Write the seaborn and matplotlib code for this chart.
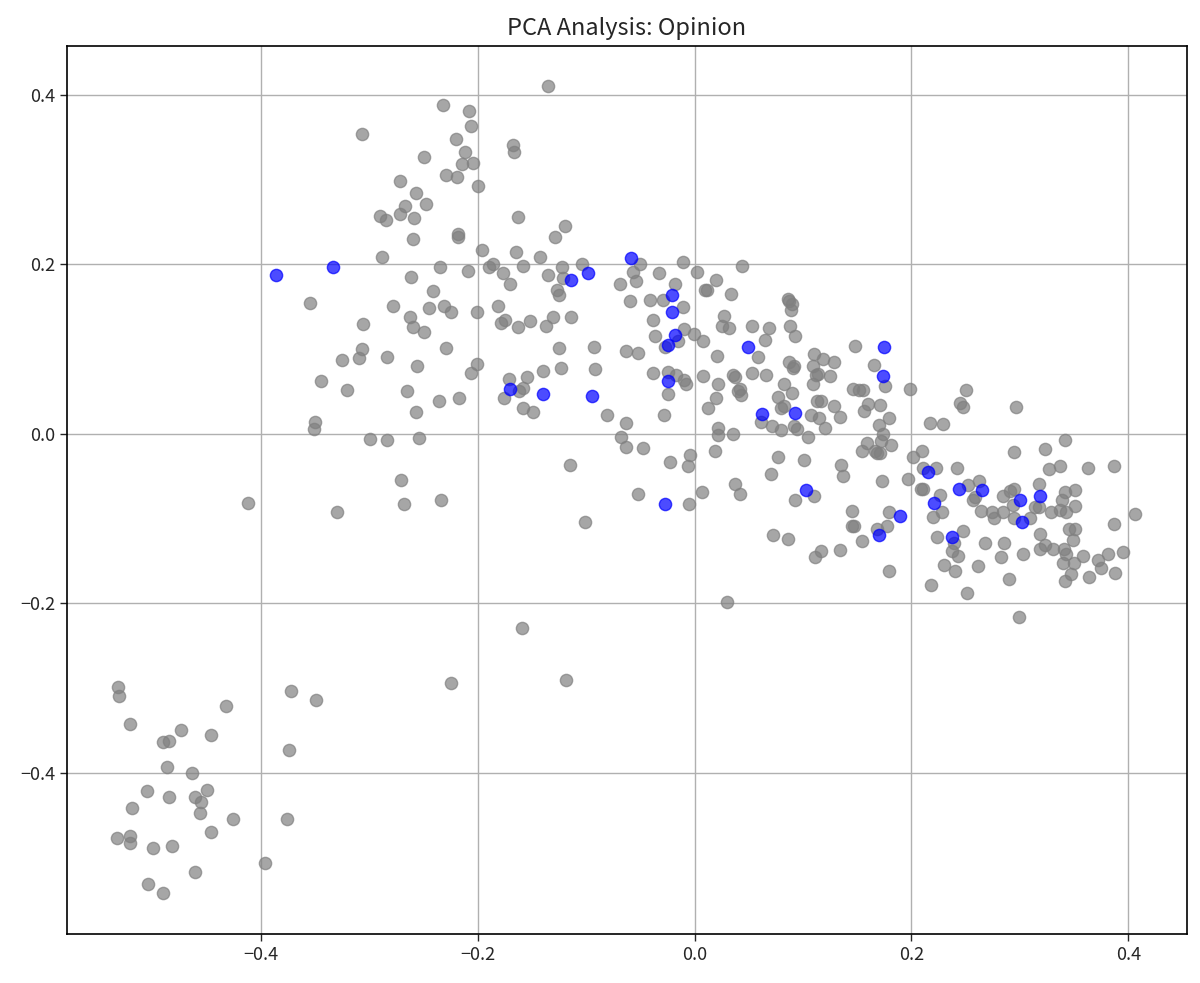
import matplotlib
matplotlib.use("Agg")
import matplotlib.pyplot as plt
import seaborn as sns
import pandas as pd

# Gray (other) points
gray_x = [
 -0.232,-0.307,-0.250,-0.229,-0.272,-0.257,-0.248,-0.267,-0.290,-0.285,-0.272,-0.259,-0.260,-0.288,-0.235,-0.262,-0.241,-0.355,-0.278,-0.263,
 -0.245,-0.231,-0.260,-0.250,-0.306,-0.307,-0.310,-0.325,-0.284,-0.256,-0.229,-0.345,-0.321,-0.265,-0.236,-0.257,-0.350,-0.351,-0.299,-0.284,
 -0.254,-0.271,-0.412,-0.330,-0.268,-0.234,
 -0.532,-0.531,-0.521,-0.432,-0.474,-0.490,-0.485,-0.446,-0.487,-0.464,-0.505,-0.485,-0.461,-0.455,-0.450,-0.519,-0.456,-0.426,-0.446,-0.533,
 -0.521,-0.521,-0.500,-0.482,-0.461,-0.504,-0.490,-0.396,-0.372,-0.349,-0.374,-0.376,-0.225,
 -0.135,-0.208,-0.206,-0.220,-0.168,-0.167,-0.212,-0.215,-0.204,-0.219,-0.200,-0.163,-0.120,-0.129,-0.218,-0.218,-0.196,-0.165,-0.143,-0.209,
 -0.190,-0.186,-0.177,-0.158,-0.170,-0.135,-0.122,-0.121,-0.127,-0.125,-0.104,-0.050,-0.057,-0.054,-0.069,-0.033,-0.011,0.002,0.020,0.010,
 0.011,0.034,0.044,-0.018,-0.029,-0.041,-0.060,-0.011,-0.038,-0.010,-0.001,0.008,-0.015,-0.027,-0.037,0.021,0.027,0.025,0.032,0.053,
 0.069,0.065,0.058,0.086,0.087,0.090,0.089,0.088,0.093,0.110,0.109,0.087,0.092,0.091,0.112,0.109,0.113,0.107,0.094,0.092,
 0.105,0.101,0.093,0.110,0.070,0.077,0.080,0.071,0.077,0.080,0.082,0.082,0.090,0.061,0.066,0.053,0.035,0.037,0.022,0.008,
 0.020,0.012,0.042,0.043,0.040,0.022,0.022,0.035,0.019,-0.004,-0.006,-0.023,0.037,0.042,0.007,-0.005,-0.052,-0.048,-0.063,-0.068,
 -0.063,-0.081,-0.028,-0.025,-0.038,-0.025,-0.017,-0.010,-0.008,-0.092,-0.093,-0.063,-0.052,-0.114,-0.125,-0.123,-0.140,-0.131,-0.137,-0.152,
 -0.163,-0.175,-0.179,-0.181,-0.201,-0.225,-0.201,-0.206,-0.217,-0.171,-0.155,-0.158,-0.162,-0.176,-0.158,-0.149,-0.115,
 0.148,0.118,0.129,0.114,0.125,0.165,0.176,0.146,0.152,0.155,0.199,0.117,0.129,0.134,0.115,0.120,0.160,0.171,0.156,0.179,
 0.170,0.174,0.172,0.159,0.181,0.154,0.166,0.171,0.168,0.217,0.229,0.250,0.245,0.248,0.296,0.201,0.210,0.197,0.211,0.223,
 0.242,0.209,0.211,0.226,0.228,0.220,0.252,0.262,0.257,0.259,0.264,0.274,0.276,0.284,0.284,0.291,0.295,0.294,0.295,0.309,
 0.295,0.323,0.342,0.327,0.337,0.363,0.387,0.318,0.314,0.318,0.329,0.337,0.343,0.339,0.342,0.351,0.351,0.406,0.387,0.319,
 0.323,0.319,0.331,0.345,0.351,0.349,0.341,0.343,0.340,0.350,0.358,0.347,0.342,0.364,0.372,0.375,0.381,0.395,0.388,0.285,
 0.268,0.283,0.303,0.290,0.261,0.251,0.299,0.248,0.239,0.237,0.243,0.230,0.240,0.224,0.218,0.179,0.177,0.168,0.145,0.145,
 0.147,0.154,0.134,0.117,0.111,0.179,0.135,0.137,0.173,
 -0.101,0.072,0.086,0.030,-0.159,-0.119,
]
gray_y = [
 0.388,0.354,0.326,0.305,0.298,0.284,0.271,0.269,0.257,0.252,0.259,0.254,0.229,0.208,0.196,0.185,0.168,0.154,0.150,0.138,
 0.148,0.150,0.126,0.120,0.129,0.100,0.089,0.087,0.090,0.080,0.101,0.062,0.052,0.050,0.039,0.025,0.014,0.006,-0.006,-0.007,
 -0.005,-0.055,-0.082,-0.092,-0.083,-0.078,
 -0.299,-0.310,-0.342,-0.321,-0.349,-0.364,-0.362,-0.356,-0.393,-0.400,-0.422,-0.429,-0.429,-0.434,-0.420,-0.442,-0.448,-0.455,-0.470,-0.477,
 -0.475,-0.483,-0.489,-0.486,-0.517,-0.531,-0.542,-0.507,-0.304,-0.314,-0.373,-0.454,-0.294,
 0.410,0.380,0.363,0.348,0.341,0.332,0.332,0.318,0.319,0.303,0.292,0.256,0.245,0.232,0.236,0.232,0.217,0.214,0.208,0.192,
 0.196,0.200,0.189,0.198,0.176,0.187,0.197,0.183,0.170,0.164,0.200,0.200,0.191,0.180,0.177,0.189,0.203,0.191,0.181,0.169,
 0.170,0.165,0.198,0.176,0.158,0.158,0.157,0.149,0.134,0.124,0.117,0.109,0.109,0.102,0.115,0.091,0.139,0.127,0.125,0.127,
 0.125,0.111,0.090,0.159,0.156,0.153,0.146,0.127,0.115,0.094,0.080,0.084,0.080,0.078,0.069,0.058,0.039,0.022,0.005,0.009,
 -0.004,-0.031,-0.078,-0.074,-0.048,-0.027,0.004,0.009,0.043,0.030,0.033,0.058,0.048,0.014,0.069,0.071,0.069,0.067,0.059,0.068,
 0.042,0.030,0.053,0.046,0.050,0.007,-0.002,0.000,-0.020,-0.025,-0.038,-0.033,-0.059,-0.071,-0.069,-0.083,-0.071,-0.017,-0.016,-0.004,
 0.012,0.022,0.022,0.047,0.072,0.073,0.069,0.063,0.058,0.076,0.102,0.097,0.095,0.137,0.101,0.077,0.074,0.137,0.127,0.133,
 0.126,0.134,0.130,0.151,0.144,0.143,0.082,0.071,0.042,0.064,0.067,0.054,0.050,0.042,0.030,0.026,-0.037,
 0.103,0.088,0.084,0.070,0.068,0.081,0.056,0.053,0.051,0.051,0.053,0.038,0.033,0.020,0.018,0.007,0.035,0.034,0.027,0.018,
 0.010,-0.001,-0.009,-0.011,-0.013,-0.020,-0.020,-0.023,-0.023,0.013,0.011,0.051,0.036,0.031,0.031,-0.027,-0.021,-0.054,-0.040,-0.040,
 -0.040,-0.065,-0.065,-0.072,-0.092,-0.098,-0.060,-0.056,-0.078,-0.075,-0.091,-0.093,-0.099,-0.093,-0.074,-0.068,-0.065,-0.084,-0.100,-0.099,
 -0.022,-0.018,-0.008,-0.042,-0.038,-0.040,-0.038,-0.059,-0.087,-0.087,-0.093,-0.090,-0.092,-0.078,-0.069,-0.066,-0.085,-0.095,-0.106,-0.118,
 -0.131,-0.136,-0.136,-0.113,-0.113,-0.125,-0.136,-0.142,-0.152,-0.152,-0.144,-0.166,-0.174,-0.169,-0.149,-0.159,-0.142,-0.140,-0.164,-0.129,
 -0.129,-0.145,-0.142,-0.171,-0.156,-0.188,-0.216,-0.115,-0.129,-0.139,-0.144,-0.155,-0.162,-0.122,-0.178,-0.093,-0.109,-0.113,-0.091,-0.109,
 -0.109,-0.127,-0.137,-0.138,-0.145,-0.162,-0.037,-0.050,-0.056,
 -0.104,-0.120,-0.124,-0.198,-0.229,-0.291,
]

# Blue (highlighted) points
blue_x = [-0.386,-0.334,
 -0.114,-0.098,-0.059,-0.021,-0.021,-0.018,-0.025,0.049,0.093,0.103,0.062,-0.027,-0.025,-0.095,-0.140,-0.170,
 0.175,0.174,0.215,0.221,0.244,0.265,0.300,0.302,0.319,0.237,0.189,0.170]
blue_y = [0.187,0.197,
 0.181,0.190,0.207,0.163,0.144,0.116,0.104,0.102,0.024,-0.066,0.023,-0.083,0.062,0.044,0.047,0.053,
 0.102,0.068,-0.045,-0.082,-0.065,-0.067,-0.078,-0.104,-0.074,-0.122,-0.097,-0.120]

title = "PCA Analysis: Opinion"

sns.set_style("white")
plt.rcParams['font.family'] = ['Noto Sans CJK JP', 'DejaVu Sans']
plt.rcParams['axes.edgecolor'] = 'black'

gray_df = pd.DataFrame({"x": gray_x, "y": gray_y})
blue_df = pd.DataFrame({"x": blue_x, "y": blue_y})

fig, ax = plt.subplots(figsize=(12, 9.83), dpi=100)
fig.subplots_adjust(left=0.0558, right=0.989, top=0.953, bottom=0.050)

sns.scatterplot(data=gray_df, x="x", y="y", ax=ax, color="gray", alpha=0.7,
                s=78, edgecolor="face", linewidth=1)
sns.scatterplot(data=blue_df, x="x", y="y", ax=ax, color="blue", alpha=0.7,
                s=78, edgecolor="face", linewidth=1)

ax.set_xlim(-0.579, 0.454)
ax.set_ylim(-0.590, 0.457)
ax.set_xticks([-0.4, -0.2, 0.0, 0.2, 0.4])
ax.set_yticks([-0.4, -0.2, 0.0, 0.2, 0.4])
ax.grid(True, color="#b0b0b0", linewidth=1)
ax.set_axisbelow(True)
ax.set_xlabel("")
ax.set_ylabel("")
ax.set_title(title, fontsize=17, pad=8)
ax.tick_params(axis="both", labelsize=13, length=5, width=1, direction="out", bottom=True, left=True)
for sp in ax.spines.values():
    sp.set_color("black")
    sp.set_linewidth(1.2)

fig.savefig("out.png", dpi=100)
